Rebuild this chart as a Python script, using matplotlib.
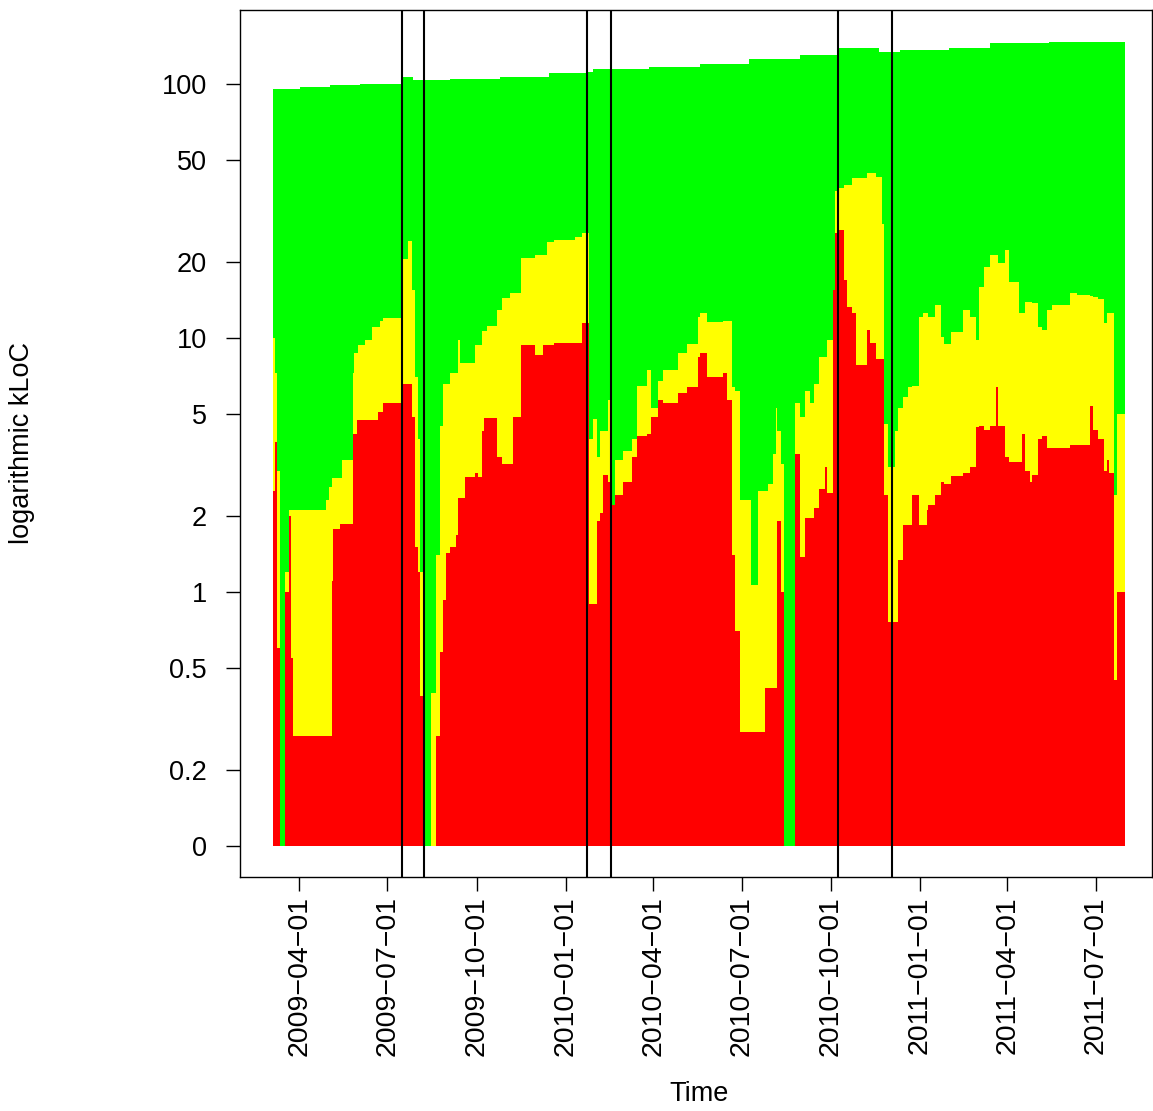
import numpy as np
import matplotlib
matplotlib.use('Agg')
import matplotlib.pyplot as plt
import matplotlib.dates as mdates
from matplotlib.ticker import NullLocator

plt.rcParams['font.family'] = ['Liberation Sans', 'DejaVu Sans']

# days are counted from the first commit
start = np.datetime64('2009-03-05')
end_day = 878

# total code size (green)
total_days = [0, 28, 59, 90, 117, 133, 144, 182, 234, 285, 323, 330, 388, 440,
              491, 543, 582, 610, 625, 646, 697, 739, 800, 852]
total_kloc = [96, 97, 99, 100, 100, 107, 104, 105, 107, 110, 111, 115, 117, 120,
              125, 130, 139, 138, 134, 136, 138, 145, 147, 147]

# yellow and red parts share the same change points
part_days = [0, 2, 4, 7, 12, 16, 19, 21, 55, 58,
             61, 62, 69, 71, 82, 84, 87, 88, 95, 102,
             108, 110, 113, 133, 134, 139, 143, 146, 149, 152,
             156, 163, 168, 172, 175, 178, 182, 189, 191, 193,
             198, 208, 211, 215, 218, 221, 231, 236, 244, 247,
             256, 270, 278, 282, 290, 311, 319, 326, 330, 334,
             337, 340, 345, 348, 352, 361, 370, 375, 385, 390,
             397, 402, 417, 427, 438, 440, 447, 464, 468, 473,
             476, 481, 493, 500, 507, 510, 515, 518, 520, 524,
             527, 538, 543, 548, 553, 558, 563, 569, 571, 577,
             579, 582, 589, 592, 597, 601, 612, 615, 622, 628,
             630, 634, 641, 644, 649, 654, 659, 666, 670, 674,
             675, 682, 689, 692, 699, 711, 718, 725, 728, 733,
             739, 745, 747, 754, 759, 769, 772, 775, 780, 782,
             789, 793, 798, 803, 821, 829, 842, 845, 850, 857,
             860, 862, 867, 870]
yellow_kloc = [10, 7.3, 3.0, 0, 1.2, 2.1, 2.1, 2.1, 2.3, 2.6,
               2.8, 2.8, 2.8, 3.3, 7.3, 8.7, 8.7, 9.4, 9.8, 11,
               11, 11.7, 12, 18.3, 20.5, 24, 15.5, 7, 4.0, 1.2,
               0, 0.4, 1.4, 4.5, 6.6, 6.6, 7.3, 7.3, 9.8, 8.0,
               8.0, 9.4, 9.4, 10.7, 10.7, 11.2, 12.9, 14.4, 15, 15,
               20.6, 21.2, 21.2, 23.9, 24.3, 25, 26, 4.0, 4.8, 3.4,
               4.3, 4.3, 5.7, 2.2, 3.3, 3.6, 4.0, 6.5, 7.5, 5.3,
               6.8, 7.5, 8.7, 9.5, 12.1, 12.5, 11.6, 11.7, 11.7, 6.4,
               6.2, 2.3, 1.07, 2.5, 2.5, 2.65, 3.5, 5.3, 4.3, 3.2,
               0, 5.55, 4.9, 6.2, 5.55, 6.6, 8.4, 8.4, 9.8, 15.5,
               38, 39, 40, 40, 42.5, 42.5, 44.5, 44.5, 43, 28,
               4.6, 3.1, 4.3, 5.3, 5.85, 6.4, 6.5, 12.1, 12.6, 12.6,
               12.1, 13.5, 10.1, 9.5, 10.6, 12.9, 12.1, 9.8, 15.9, 19,
               21.2, 21.2, 19.7, 22.2, 16.6, 12.6, 12.6, 13.9, 13.9, 13.7,
               11, 10.8, 12.9, 13.5, 15, 14.8, 14.6, 14.5, 14.2, 11.5,
               12.6, 12.6, 2.4, 5.0]
red_kloc = [2.5, 3.9, 0.6, 0, 1.0, 2.0, 0.55, 0.27, 0.27, 0.27,
            1.1, 1.77, 1.85, 1.85, 4.2, 4.2, 4.75, 4.75, 4.75, 4.75,
            5.1, 5.1, 5.55, 7.0, 6.6, 6.6, 4.9, 1.5, 1.2, 0.39,
            0, 0, 0.27, 0.58, 0.93, 1.42, 1.5, 1.67, 2.35, 2.35,
            2.84, 2.95, 2.84, 4.3, 4.85, 4.85, 3.4, 3.2, 3.2, 4.9,
            9.4, 8.6, 9.4, 9.4, 9.6, 9.6, 11.5, 0.9, 0.9, 1.9,
            2.05, 2.9, 2.7, 2.2, 2.4, 2.7, 3.4, 4.1, 4.2, 4.9,
            5.7, 5.55, 6.1, 6.4, 8.4, 8.7, 7.0, 7.3, 5.7, 1.4,
            0.7, 0.28, 0.28, 0.28, 0.42, 0.42, 0.42, 0.42, 1.9, 1.0,
            0, 3.5, 1.37, 1.95, 1.95, 2.15, 2.55, 3.1, 2.45, 15.5,
            26, 26.6, 16.9, 13.3, 12.5, 7.8, 10.8, 9.6, 8.3, 8.3,
            2.4, 0.76, 0.76, 1.34, 1.84, 1.84, 2.4, 1.84, 1.84, 2.1,
            2.2, 2.4, 2.7, 2.65, 2.85, 2.95, 3.1, 4.45, 4.5, 4.35,
            4.5, 6.4, 4.5, 3.4, 3.25, 3.25, 4.2, 3.0, 2.7, 2.9,
            4.0, 4.1, 3.7, 3.7, 3.8, 3.8, 5.4, 4.35, 4.0, 3.0,
            3.3, 2.95, 0.45, 1.0]

release_dates = ['2009-07-16', '2009-08-08', '2010-01-23', '2010-02-16',
                 '2010-10-08', '2010-12-03']
tick_dates = ['2009-04-01', '2009-07-01', '2009-10-01', '2010-01-01',
              '2010-04-01', '2010-07-01', '2010-10-01', '2011-01-01',
              '2011-04-01', '2011-07-01']

y_ticks = [0.1, 0.2, 0.5, 1, 2, 5, 10, 20, 50, 100]
y_labels = ['0', '0.2', '0.5', '1', '2', '5', '10', '20', '50', '100']
floor = 0.1  # log axis: 0 is drawn at 0.1


def steps(days, vals):
    d = np.array(list(days) + [end_day]).astype('timedelta64[D]') + start
    v = np.array(list(vals) + [vals[-1]], dtype=float)
    return mdates.date2num(d), np.maximum(v, floor)


fig = plt.figure(figsize=(11.53, 11.11), dpi=100)
ax = fig.add_axes([240 / 1153, 234 / 1111, 912 / 1153, 867 / 1111])

for days, vals, col in [(total_days, total_kloc, '#00ff00'),
                        (part_days, yellow_kloc, '#ffff00'),
                        (part_days, red_kloc, '#ff0000')]:
    x, y = steps(days, vals)
    ax.fill_between(x, floor, y, step='post', color=col, linewidth=0)

for d in release_dates:
    ax.axvline(mdates.date2num(np.datetime64(d)), color='black', lw=1.5)

ax.set_yscale('log')
ax.set_ylim(0.0755, 195.6)
ax.set_yticks(y_ticks)
ax.set_yticklabels(y_labels)
ax.yaxis.set_minor_locator(NullLocator())

x0 = mdates.date2num(start)
ax.set_xlim(x0 - 34, x0 + 906)
ax.set_xticks([mdates.date2num(np.datetime64(t)) for t in tick_dates])
ax.set_xticklabels([t.replace('-', '\u2212') for t in tick_dates], rotation=90)
ax.xaxis.set_minor_locator(NullLocator())

ax.tick_params(axis='both', direction='out', length=10, width=1.0,
               labelsize=19.5)
ax.tick_params(axis='x', pad=4, labelsize=20.5)
ax.tick_params(axis='y', pad=14)
for s in ax.spines.values():
    s.set_linewidth(1.0)

fig.text(22 / 1153, 1 - 443 / 1111, 'logarithmic kLoC', rotation=90,
         ha='center', va='center', fontsize=19.5)
fig.text(699 / 1153, 1 - 1094 / 1111, 'Time', ha='center', va='center',
         fontsize=19.5)

fig.savefig('out.png', dpi=100)
